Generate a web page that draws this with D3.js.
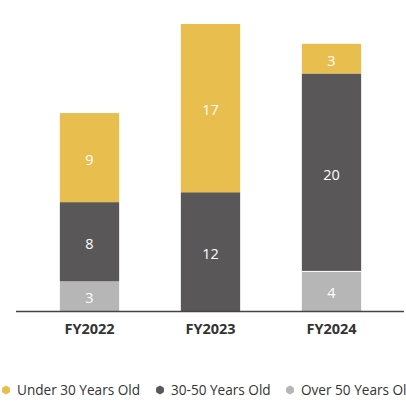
<!DOCTYPE html>
<html><head><meta charset="utf-8">
<script src="https://cdn.jsdelivr.net/npm/d3@7/dist/d3.min.js"></script>
<style>
html,body{margin:0;padding:0;background:#fff;overflow:hidden;}
text{font-family:"Open Sans",sans-serif;}
</style></head>
<body><svg id="c" width="406" height="403"></svg>
<script>
const categories = ["FY2022","FY2023","FY2024"];
const seriesNames = ["Over 50 Years Old","30-50 Years Old","Under 30 Years Old"];
const over50 = [3,0,4];
const mid3050 = [8,12,20];
const under30 = [9,17,3];
const colors = ["#b5b6b5","#595757","#e8be4f"];
const legendOrder = [2,1,0];

const rows = categories.map((c,i)=>({cat:c,"Over 50 Years Old":over50[i],"30-50 Years Old":mid3050[i],"Under 30 Years Old":under30[i]}));
const stack = d3.stack().keys(seriesNames)(rows);

const svg = d3.select("#c");
const x = d3.scaleBand().domain(categories).range([29,392]).paddingInner(0.51).paddingOuter(0.255);
const y = d3.scaleLinear().domain([0,29]).range([311,24]);

stack.forEach((s,si)=>{
  const g = svg.append("g");
  s.forEach(d=>{
    const v = d[1]-d[0];
    if(v<=0) return;
    g.append("rect").attr("x",x(d.data.cat)).attr("width",x.bandwidth())
      .attr("y",y(d[1])).attr("height",y(d[0])-y(d[1])).attr("fill",colors[si]);
    g.append("text").attr("x",x(d.data.cat)+x.bandwidth()/2).attr("y",(y(d[0])+y(d[1]))/2+2)
      .attr("dy","0.35em").attr("text-anchor","middle").attr("fill","#fff")
      .attr("font-size",14.5).text(v);
  });
});
// white separator in FY2024
svg.append("line")
  .attr("x1",x("FY2024")).attr("x2",x("FY2024")+x.bandwidth())
  .attr("y1",y(over50[2])).attr("y2",y(over50[2]))
  .attr("stroke","#fff").attr("stroke-width",1);

const xAxis = d3.axisBottom(x).tickSize(0).tickPadding(12);
const ax = svg.append("g").attr("transform","translate(0,311.5)").call(xAxis);
ax.select(".domain").attr("d","M16,0H404").attr("stroke","#444").attr("stroke-width",1.3);
ax.selectAll("text").attr("font-size",14.5).attr("font-weight","bold").attr("fill","#333")
  .attr("font-family","'Open Sans',sans-serif");

const legX = [6,160,290];
const hex = d3.range(6).map(k=>{const a=Math.PI/3*k-Math.PI/2;return [4.5*Math.cos(a),4.5*Math.sin(a)];});
const leg = svg.append("g");
legendOrder.forEach((si,j)=>{
  const g = leg.append("g").attr("transform",`translate(${legX[j]},390)`);
  g.append("path").attr("d","M"+hex.join("L")+"Z").attr("fill",colors[si]);
  g.append("text").attr("x",11).attr("dy","0.35em").attr("font-size",13.6).attr("fill","#333").text(seriesNames[si]);
});
</script></body></html>
